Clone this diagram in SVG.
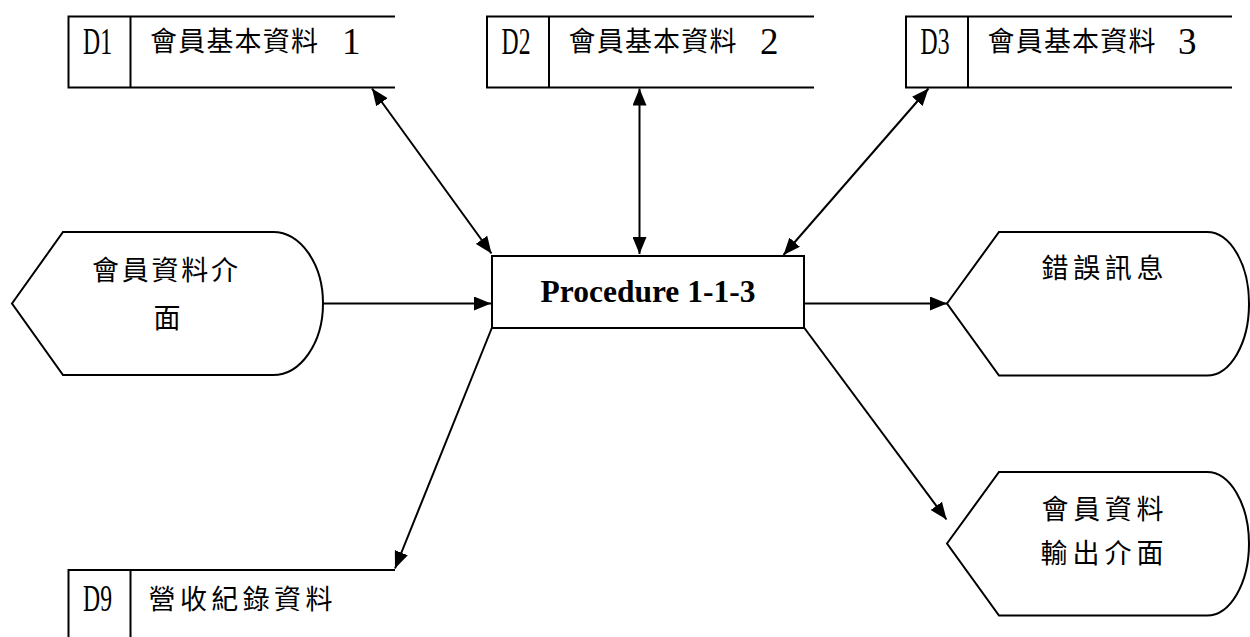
<svg xmlns="http://www.w3.org/2000/svg" width="1250" height="637" viewBox="0 0 1250 637">
<style>
.bg{fill:#ffffff}
.sh{fill:#ffffff;stroke:#000000;stroke-width:2}
.st{fill:none;stroke:#000000;stroke-width:2}
.ln{fill:none;stroke:#000000;stroke-width:2}
.cj{font-family:"Liberation Serif","Noto Sans CJK TC",serif;font-size:27px;fill:#000000}
.id{font-family:"Liberation Serif",serif;font-size:37px;fill:#000000}
.pr{font-family:"Liberation Serif",serif;font-size:31.5px;font-weight:bold;fill:#000000}
</style>
<defs>
<marker id="ah" markerUnits="userSpaceOnUse" markerWidth="17" markerHeight="14" refX="17" refY="7" orient="auto-start-reverse">
<path d="M0,0 L17,7 L0,14 Z" fill="#000000"/>
</marker>
</defs>
<rect class="bg" x="0" y="0" width="1250" height="637"/>
<g id="connectors">
<line class="ln" x1="372" y1="88.5" x2="491.5" y2="253.5" marker-start="url(#ah)" marker-end="url(#ah)"/>
<line class="ln" x1="639.5" y1="88.5" x2="639.5" y2="254" marker-start="url(#ah)" marker-end="url(#ah)"/>
<line class="ln" x1="928.5" y1="88.5" x2="783.5" y2="255" marker-start="url(#ah)" marker-end="url(#ah)"/>
<line class="ln" x1="323" y1="303.5" x2="491" y2="303.5" marker-end="url(#ah)"/>
<line class="ln" x1="804" y1="303.5" x2="947" y2="303.5" marker-end="url(#ah)"/>
<line class="ln" x1="804" y1="327.5" x2="946.5" y2="519.5" marker-end="url(#ah)"/>
<line class="ln" x1="492" y1="327.5" x2="395" y2="568.5" marker-end="url(#ah)"/>
</g>
<g id="D1">
<path class="st" d="M395,16.5 H68.5 V87.5 H395 M130.5,16.5 V87.5"/>
<text class="id" x="83" y="53.5" textLength="29" lengthAdjust="spacingAndGlyphs">D1</text>
<text class="cj" x="150" y="51.3" textLength="168">會員基本資料</text>
<text class="id" x="342" y="53.5">1</text>
</g>
<g id="D2">
<path class="st" d="M814,16.5 H487 V87.5 H814 M549,16.5 V87.5"/>
<text class="id" x="501.5" y="53.5" textLength="29" lengthAdjust="spacingAndGlyphs">D2</text>
<text class="cj" x="568.5" y="51.3" textLength="168">會員基本資料</text>
<text class="id" x="760" y="53.5">2</text>
</g>
<g id="D3">
<path class="st" d="M1232,16.5 H906 V87.5 H1232 M968,16.5 V87.5"/>
<text class="id" x="920.5" y="53.5" textLength="29" lengthAdjust="spacingAndGlyphs">D3</text>
<text class="cj" x="987.5" y="51.3" textLength="168">會員基本資料</text>
<text class="id" x="1178" y="53.5">3</text>
</g>
<g id="D9">
<path class="st" d="M395,570 H68.5 V640 M130.5,570 V640"/>
<text class="id" x="83" y="611" textLength="29" lengthAdjust="spacingAndGlyphs">D9</text>
<text class="cj" x="148.5" y="608.8" textLength="184">營收紀錄資料</text>
</g>
<g id="process">
<rect class="sh" x="492" y="256" width="312" height="72"/>
<text class="pr" x="648" y="301.5" text-anchor="middle">Procedure 1-1-3</text>
</g>
<g id="member-interface">
<path class="sh" d="M12,303.5 L63,232 H273 A50,71.5 0 0 1 323,303.5 A50,71.5 0 0 1 273,375 H63 Z"/>
<text class="cj" x="92" y="280.3" textLength="146">會員資料介</text>
<text class="cj" x="167" y="327.8" text-anchor="middle">面</text>
</g>
<g id="error-message">
<path class="sh" d="M947,303.5 L999,232 H1207 A42,71.5 0 0 1 1249,303.5 A42,71.5 0 0 1 1207,375.5 H999 Z"/>
<text class="cj" x="1041.5" y="277.8" textLength="122">錯誤訊息</text>
</g>
<g id="member-output">
<path class="sh" d="M947,543.5 L999,472 H1207 A42,72 0 0 1 1249,543.5 A42,72 0 0 1 1207,615.5 H999 Z"/>
<text class="cj" x="1041.5" y="519.3" textLength="122">會員資料</text>
<text class="cj" x="1040.5" y="563.3" textLength="123">輸出介面</text>
</g>
</svg>
